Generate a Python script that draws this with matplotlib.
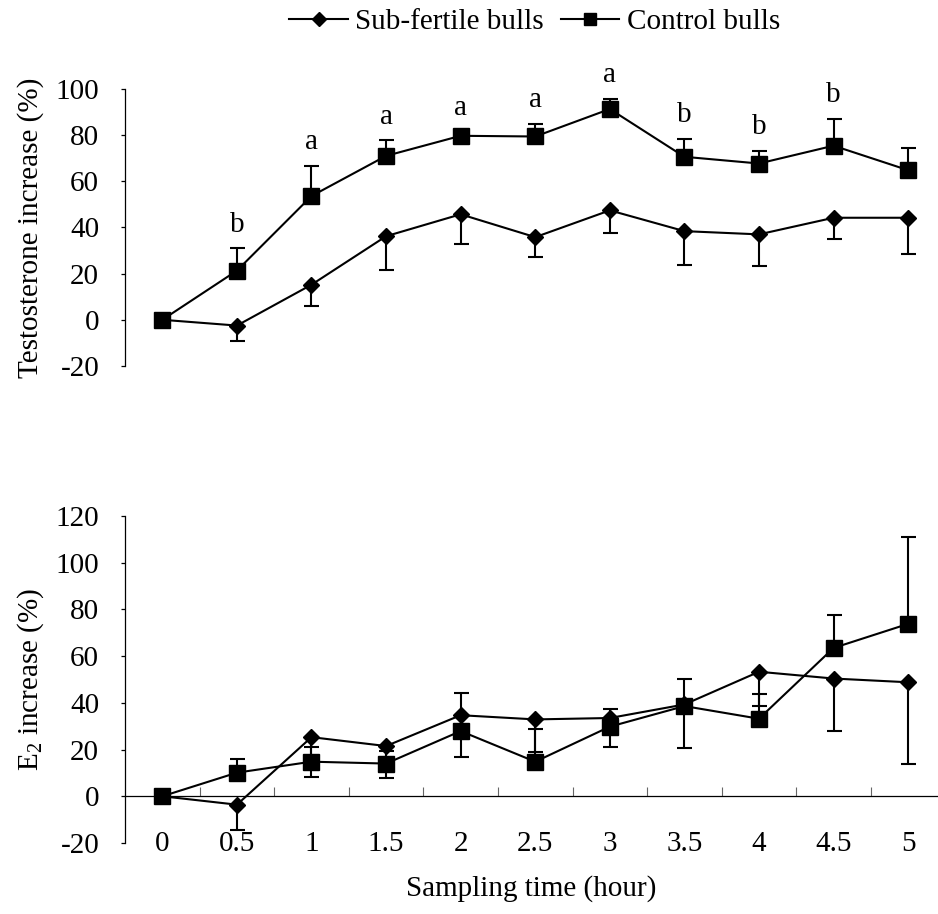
"""
Testosterone and E2 increase after stimulation: sub-fertile vs control bulls.
Two stacked panels sharing the sampling-time categories.
"""

import numpy as np
import matplotlib
matplotlib.use('Agg')
import matplotlib.pyplot as plt

plt.rcParams['font.family'] = ['Liberation Serif', 'DejaVu Serif']
plt.rcParams['mathtext.fontset'] = 'custom'
plt.rcParams['mathtext.rm'] = 'Liberation Serif'
plt.rcParams['mathtext.default'] = 'regular'
plt.rcParams['axes.unicode_minus'] = False
plt.rcParams['font.size'] = 21

# sampling time categories (hour)
times = ['0', '0.5', '1', '1.5', '2', '2.5', '3', '3.5', '4', '4.5', '5']

# testosterone increase (%), mean and one-sided SE
testo_sub = [0, -2.5, 15.2, 36.2, 45.7, 35.8, 47.4, 38.4, 37.0, 44.2, 44.2]
testo_sub_err = [0, 6.5, 9.4, 14.5, 13.0, 8.6, 9.7, 14.8, 13.5, 9.0, 15.5]
testo_ctrl = [0, 21.3, 53.6, 71.0, 79.7, 79.4, 91.3, 70.6, 67.7, 75.4, 64.8]
testo_ctrl_err = [0, 9.7, 13.0, 6.8, 2.0, 5.4, 4.4, 7.7, 5.5, 11.6, 9.8]
testo_letters = ['', 'b', 'a', 'a', 'a', 'a', 'a', 'b', 'b', 'b', '']

# E2 increase (%), mean and one-sided SE
e2_sub = [0, -3.6, 25.3, 21.5, 34.7, 32.9, 33.5, 39.3, 53.3, 50.4, 48.8]
e2_sub_err = [0, 11.0, 17.0, 13.8, 17.9, 14.0, 12.5, 18.8, 14.5, 22.6, 34.8]
e2_ctrl = [0, 10.1, 14.8, 14.0, 27.9, 14.8, 29.8, 38.6, 33.2, 63.5, 73.8]
e2_ctrl_err = [0, 6.0, 6.4, 5.4, 16.4, 13.8, 7.4, 11.8, 10.7, 13.9, 37.2]

x = np.arange(len(times))


def draw_pair(ax, sub, sub_err, ctrl, ctrl_err):
    zeros = np.zeros(len(sub))
    style = dict(color='black', linewidth=1.5, elinewidth=1.5,
                 capsize=5.4, capthick=1.5)
    # sub-fertile: error bars point down, control: error bars point up
    h_sub = ax.errorbar(x, sub, yerr=[sub_err, zeros], marker='D',
                        markersize=8, **style)
    h_ctrl = ax.errorbar(x, ctrl, yerr=[zeros, ctrl_err], marker='s',
                         markersize=11, **style)
    return h_sub, h_ctrl


def style_yaxis(ax, lo, hi):
    ax.set_xlim(-0.5, 10.4)
    ax.set_ylim(lo, hi)
    ax.set_yticks(np.arange(lo, hi + 1, 20))
    ax.spines['top'].set_visible(False)
    ax.spines['right'].set_visible(False)
    ax.spines['left'].set_linewidth(0.9)
    ax.tick_params(axis='y', direction='out', length=3, width=0.9,
                   pad=15.6, labelsize=21)


fig = plt.figure(figsize=(9.38, 9.14), dpi=100)
ax1 = fig.add_axes([0.1333, 0.5996, 0.8667, 0.3031])
ax2 = fig.add_axes([0.1333, 0.0777, 0.8667, 0.3578])

# top panel: testosterone
h_sub, h_ctrl = draw_pair(ax1, testo_sub, testo_sub_err, testo_ctrl, testo_ctrl_err)
style_yaxis(ax1, -20, 100)
ax1.spines['bottom'].set_visible(False)
ax1.tick_params(axis='x', bottom=False, labelbottom=False)
ax1.set_ylabel('Testosterone increase (%)', va='center')
ax1.yaxis.set_label_coords(-0.116, 0.5)

for xi, m, e, lab in zip(x, testo_ctrl, testo_ctrl_err, testo_letters):
    if lab:
        ax1.annotate(lab, (xi, m + e), xytext=(0, 12), textcoords='offset points',
                     ha='center', va='baseline', fontsize=21)

# bottom panel: E2
draw_pair(ax2, e2_sub, e2_sub_err, e2_ctrl, e2_ctrl_err)
style_yaxis(ax2, -20, 120)
ax2.spines['bottom'].set_position(('data', 0))
ax2.spines['bottom'].set_linewidth(0.9)
ax2.set_xticks(x)
ax2.set_xticklabels(times)
ax2.set_xticks(x[:-1] + 0.5, minor=True)
ax2.tick_params(axis='x', which='major', length=0, pad=25.2, labelsize=21)
ax2.tick_params(axis='x', which='minor', direction='in', length=6.5,
                width=0.8, color='#666666')
ax2.set_ylabel('E$_2$ increase (%)', va='center')
ax2.yaxis.set_label_coords(-0.116, 0.5)
ax2.set_xlabel('Sampling time (hour)', va='center')
ax2.xaxis.set_label_coords(0.5, -0.138)

fig.legend([h_sub[0], h_ctrl[0]], ['Sub-fertile bulls', 'Control bulls'],
           loc='center', bbox_to_anchor=(0.57, 0.976), ncol=2, frameon=False,
           handlelength=2.0, handletextpad=0.25, columnspacing=0.6,
           markerscale=0.85, fontsize=21)

fig.savefig('out.png', dpi=100)
